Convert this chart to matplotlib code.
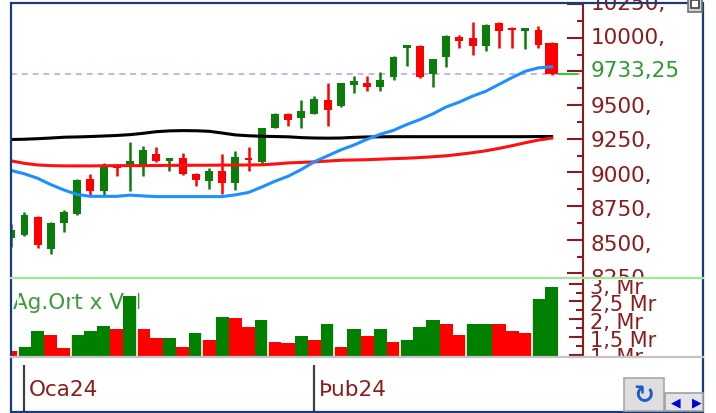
import numpy as np
import pandas as pd
import matplotlib
matplotlib.use("Agg")
import matplotlib.pyplot as plt
from matplotlib.patches import Rectangle
from matplotlib.lines import Line2D
from matplotlib.transforms import ScaledTranslation, blended_transform_factory

# daily bars 29 Dec 2023 - 27 Feb 2024 (1 Jan closed)
dates = pd.bdate_range("2023-12-29", "2024-02-27")
dates = dates[dates != pd.Timestamp("2024-01-01")]

opens = [8515, 8536, 8669, 8428, 8621, 8694, 8949, 8862, 9058, 9051, 9044, 9133, 9085, 9109,
         8988, 8935, 9012, 8923, 9104, 9080, 9333, 9430, 9406, 9437, 9534, 9495, 9647, 9660,
         9636, 9710, 9925, 9937, 9732, 9853, 10002, 9998, 9937, 10107, 10070, 10051, 10058, 9962]
highs = [8616, 8705, 8674, 8631, 8718, 8951, 8988, 9068, 9061, 9225, 9196, 9189, 9109, 9147,
         8993, 9036, 9140, 9157, 9189, 9331, 9444, 9442, 9534, 9567, 9660, 9667, 9712, 9712,
         9744, 9865, 9949, 9944, 9844, 10022, 10022, 10114, 10099, 10114, 10082, 10072, 10089, 9965]
lows = [8449, 8529, 8442, 8391, 8560, 8687, 8826, 8826, 8971, 8862, 8971, 9080, 9007, 8983,
        8899, 8875, 8843, 8868, 9007, 9065, 9326, 9346, 9333, 9430, 9346, 9486, 9587, 9607,
        9607, 9683, 9792, 9703, 9631, 9785, 9925, 9872, 9901, 9925, 9925, 9913, 9925, 9725]
closes = [8573, 8681, 8464, 8626, 8705, 8947, 8862, 9044, 9029, 9087, 9167, 9085, 9104, 8988,
          8947, 9012, 8923, 9116, 9092, 9326, 9437, 9389, 9454, 9544, 9466, 9660, 9676, 9636,
          9683, 9857, 9942, 9708, 9841, 10010, 9973, 9937, 10094, 10046, 10058, 10070, 9949, 9733.25]

ma_black = [9244, 9246, 9250, 9255, 9261, 9263, 9266, 9270, 9274, 9280, 9290, 9302, 9308, 9310,
            9309, 9305, 9292, 9278, 9272, 9268, 9266, 9264, 9258, 9255, 9254, 9255, 9260, 9263,
            9264, 9265, 9265, 9265, 9265, 9265, 9265, 9265, 9265, 9265, 9265, 9265, 9266, 9266]
ma_red = [9085, 9067, 9055, 9050, 9048, 9048, 9048, 9049, 9050, 9050, 9050, 9051, 9052, 9052,
          9053, 9053, 9054, 9054, 9055, 9056, 9062, 9070, 9074, 9078, 9084, 9090, 9092, 9094,
          9098, 9102, 9105, 9110, 9116, 9123, 9134, 9146, 9160, 9178, 9198, 9220, 9240, 9254]
ma_blue = [9014, 8989, 8956, 8909, 8869, 8836, 8822, 8822, 8822, 8831, 8825, 8820, 8820, 8820,
           8820, 8820, 8820, 8833, 8851, 8891, 8934, 8971, 9021, 9079, 9123, 9167, 9203, 9246,
           9283, 9312, 9355, 9392, 9435, 9486, 9522, 9566, 9602, 9653, 9704, 9751, 9776, 9784]

# Ag.Ort x Vol, milyar TL
turnover = [1.11, 1.20, 1.66, 1.56, 1.18, 1.56, 1.66, 1.81, 1.71, 2.66, 1.71, 1.47, 1.47, 1.21,
            1.61, 1.41, 2.06, 2.02, 1.77, 1.97, 1.36, 1.32, 1.51, 1.41, 1.86, 1.21, 1.71, 1.51,
            1.71, 1.36, 1.41, 1.77, 1.97, 1.86, 1.56, 1.86, 1.86, 1.86, 1.66, 1.61, 2.57, 2.92]
turnover_up = [0, 1, 1, 0, 0, 1, 1, 1, 0, 1, 0, 0, 1, 0, 1, 0, 1, 0, 0, 1, 0, 0, 1, 0, 1, 0, 1, 0,
               1, 0, 1, 1, 1, 0, 0, 1, 1, 0, 0, 0, 1, 1]

price_ticks = [8250, 8500, 8750, 9000, 9250, 9500, 9750, 10000, 10250]
price_labels = ["8250,", "8500,", "8750,", "9000,", "9250,", "9500,", "", "10000,", "10250,"]
last_label = "9733,25"
vol_ticks = [1.0, 1.5, 2.0, 2.5, 3.0]
vol_labels = ["1, Mr", "1,5 Mr", "2, Mr", "2,5 Mr", "3, Mr"]
month_labels = ["Oca24", "Þub24"]

GREEN = "#0b7d0b"
RED = "#ff0000"
AXRED = "#8b1c1c"
W, H = 716, 414


def rect(x0, y0, x1, y1):
    return [x0 / W, 1 - y1 / H, (x1 - x0) / W, (y1 - y0) / H]


def price_at(y):
    return 9250 + (136.5 - y) * 250 / 34.45


def vol_at(y):
    return 1.0 + (355.5 - y) / 35.4


def idx_at(x):
    return (x - 11.3) / 13.18


fig = plt.figure(figsize=(W / 100, H / 100), dpi=100)
n = len(closes)
x = np.arange(n)
o, h, l, c = map(np.array, (opens, highs, lows, closes))

# price panel
ax = fig.add_axes(rect(11, 5, 583, 278))
ax.set_xlim(idx_at(11), idx_at(583))
ax.set_ylim(price_at(278), price_at(5))
col = np.where(c >= o, GREEN, RED)
ax.vlines(x, l, h, colors=col, lw=1.8, zorder=3)
body = c - o
body = np.where(np.abs(body) < 10, np.where(body < 0, -10, 10), body)
widths = np.full(n, 0.6)
widths[-1] = 1.0
ax.bar(x, body, bottom=o, width=widths, color=col, zorder=4)
ax.plot(x, ma_black, color="black", lw=2.2, zorder=5)
ax.plot(x, ma_red, color="#ff1010", lw=2.2, zorder=5)
ax.plot(x, ma_blue, color="#1e8fff", lw=2.2, zorder=6)
ax.axhline(c[-1], color="#c8a0f5", lw=1.2, ls=(0, (3.5, 3)), zorder=1)
ax.hlines(c[-1], n - 0.5, n + 1, color="#33cc33", lw=1.5, zorder=6)

for s in ["top", "left", "bottom"]:
    ax.spines[s].set_visible(False)
ax.spines["right"].set_color(AXRED)
ax.spines["right"].set_linewidth(1.5)
ax.yaxis.tick_right()
ax.set_yticks(price_ticks)
ax.set_yticks(np.array(price_ticks[:-1]) + 125, minor=True)
ax.tick_params(axis="y", which="major", direction="in", length=11.5, width=1.5,
               color=AXRED, labelright=False)
ax.tick_params(axis="y", which="minor", direction="in", length=4.5, width=1.5, color=AXRED)
ax.set_xticks([])

axl = fig.add_axes(rect(583, 0, 703, 279))
axl.set_xlim(0, 1)
axl.set_ylim(price_at(279), price_at(0))
axl.axis("off")
down5 = axl.transData + ScaledTranslation(0, -0.05, fig.dpi_scale_trans)
for t, lab in zip(price_ticks, price_labels):
    axl.text(0.06, t, lab, transform=down5, va="center", ha="left", fontsize=15.5,
             color=AXRED, clip_on=True)
axl.text(0.06, c[-1], last_label, va="center", ha="left", fontsize=15.5, color="#2f9a2f",
         transform=axl.transData + ScaledTranslation(0, -0.015, fig.dpi_scale_trans),
         clip_on=True)

# volume panel
axv = fig.add_axes(rect(11, 281, 583, 357))
axv.set_xlim(idx_at(11), idx_at(583))
axv.set_ylim(vol_at(357), vol_at(281))
axv.bar(x, turnover, width=1.0, color=np.where(np.array(turnover_up) == 1, "#008000", RED),
        zorder=3)
weeks = dates.isocalendar().week.values
gaps = [i + 0.5 for i in range(n - 1) if weeks[i + 1] != weeks[i]]
axv.vlines(gaps, 0, 4, color="white", lw=1.2, zorder=4)
axv.text(0.004, 0.71, "Ag.Ort x Vol", transform=axv.transAxes, fontsize=15.5,
         color="#3a9a3a", va="center", ha="left", zorder=2)
for s in ["top", "left", "bottom"]:
    axv.spines[s].set_visible(False)
axv.spines["right"].set_color(AXRED)
axv.spines["right"].set_linewidth(1.5)
axv.yaxis.tick_right()
axv.set_yticks(vol_ticks)
axv.set_yticks(np.array(vol_ticks[:-1]) + 0.25, minor=True)
axv.tick_params(axis="y", which="major", direction="in", length=10, width=1.5,
                color=AXRED, labelright=False)
axv.tick_params(axis="y", which="minor", direction="in", length=5, width=1.5, color=AXRED)
axv.set_xticks([])

axvl = fig.add_axes(rect(583, 281, 703, 357))
axvl.set_xlim(0, 1)
axvl.set_ylim(vol_at(357), vol_at(281))
axvl.axis("off")
down3 = axvl.transData + ScaledTranslation(0, -0.03, fig.dpi_scale_trans)
for t, lab in zip(vol_ticks, vol_labels):
    axvl.text(0.06, t, lab, transform=down3, va="center", ha="left", fontsize=15,
              color=AXRED, clip_on=True)

# date strip
axd = fig.add_axes(rect(11, 359, 703, 412))
axd.set_xlim(idx_at(11), idx_at(703))
axd.set_ylim(0, 1)
for s in axd.spines.values():
    s.set_visible(False)
month_pos = [i for i in range(1, n) if dates[i].month != dates[i - 1].month]
axd.set_xticks(month_pos)
axd.set_xticklabels([])
axd.set_yticks([])
axd.tick_params(axis="x", direction="in", length=33, width=1.6, color="#404040")
lab_tr = blended_transform_factory(axd.transData, axd.transAxes) + \
    ScaledTranslation(0.04, 0, fig.dpi_scale_trans)
for p, lab in zip(month_pos, month_labels):
    axd.text(p, 0.415, lab, transform=lab_tr, va="center", ha="left", fontsize=15.5,
             color=AXRED)

# separators, frame and buttons
fig.add_artist(Line2D([11 / W, 703 / W], [1 - 279 / H] * 2, color="#a0e8a0", lw=1.6))
fig.add_artist(Line2D([11 / W, 703 / W], [1 - 358 / H] * 2, color="#c4c4c4", lw=1.6))
fig.add_artist(Rectangle((10.5 / W, 1 - 412.5 / H), 692.5 / W, 408.5 / H,
                         transform=fig.transFigure, fill=False, ec="#1b3a7a", lw=1.6))


def box(x0, y0, x1, y1, fc, ec):
    fig.add_artist(Rectangle((x0 / W, 1 - y1 / H), (x1 - x0) / W, (y1 - y0) / H,
                             transform=fig.transFigure, fc=fc, ec=ec, lw=1.2))


box(688, -2, 702, 13, "#d4d4d4", "#707070")
box(691, 1, 699, 9, "white", "#404040")
box(624, 379, 664, 412, "#dedede", "#a8a8a8")
fig.text(644 / W, 1 - 396 / H, "↻", fontsize=18, fontweight="bold", color="#1f5bc6",
         ha="center", va="center")
box(665, 394, 703, 412, "#e4e4e4", "#a0a0a0")
fig.text(676 / W, 1 - 403 / H, "◀", fontsize=9, color="#0000e0", ha="center", va="center")
fig.text(697 / W, 1 - 403 / H, "▶", fontsize=9, color="#0000e0", ha="center", va="center")

fig.savefig("out.png", dpi=100)
